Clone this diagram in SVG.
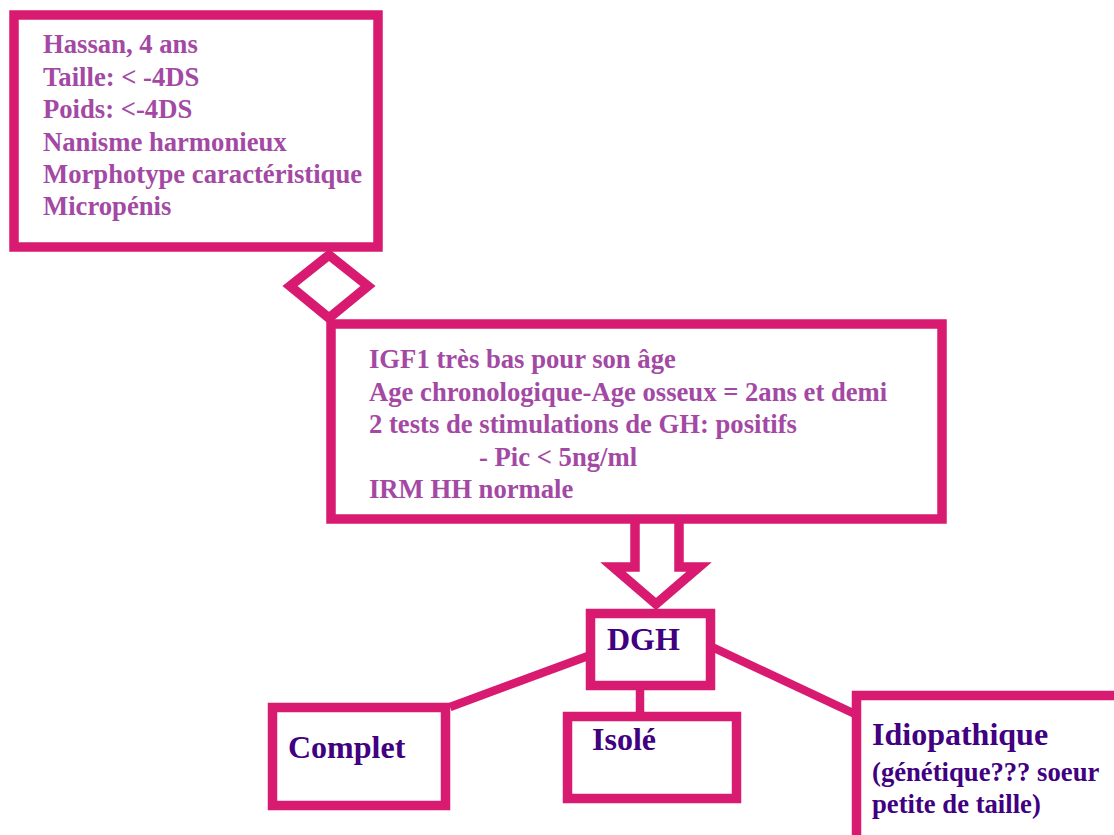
<svg xmlns="http://www.w3.org/2000/svg" width="1114" height="835" viewBox="0 0 1114 835">
<style>
.box{fill:#ffffff;stroke:#d81b70;stroke-width:9.5;stroke-linejoin:miter}
.con{fill:none;stroke:#d81b70;stroke-width:8.5}
.t1{font-family:"Liberation Serif","Times New Roman",serif;font-weight:bold;font-size:26.67px;fill:#a349a4}
.t2{font-family:"Liberation Serif","Times New Roman",serif;font-weight:bold;font-size:32px;fill:#400080}
.t3{font-family:"Liberation Serif","Times New Roman",serif;font-weight:bold;font-size:26.67px;fill:#400080}
</style>
<rect width="1114" height="835" fill="#ffffff"/>
<g id="connectors">
<polygon class="box" points="329,255 368,286 329,318 290,286"/>
<path class="box" d="M635,520 V567 H613 L656,604 L699,567 H679 V520"/>
<line class="con" x1="640" y1="688" x2="640" y2="714"/>
<line class="con" x1="450" y1="707" x2="588" y2="656"/>
<line class="con" x1="712" y1="647" x2="855" y2="714"/>
</g>
<g id="node-patient">
<rect class="box" x="14" y="15" width="364" height="232"/>
<text class="t1" x="43" y="53">Hassan, 4 ans</text>
<text class="t1" x="43" y="86">Taille: &lt; -4DS</text>
<text class="t1" x="43" y="118">Poids: &lt;-4DS</text>
<text class="t1" x="43" y="151">Nanisme harmonieux</text>
<text class="t1" x="43" y="183">Morphotype caractéristique</text>
<text class="t1" x="43" y="215">Micropénis</text>
</g>
<g id="node-bilan">
<rect class="box" x="331" y="324" width="611" height="195"/>
<text class="t1" x="369" y="368">IGF1 très bas pour son âge</text>
<text class="t1" x="369" y="400.5">Age chronologique-Age osseux = 2ans et demi</text>
<text class="t1" x="369" y="433">2 tests de stimulations de GH: positifs</text>
<text class="t1" x="479" y="465.5">- Pic &lt; 5ng/ml</text>
<text class="t1" x="369" y="498">IRM HH normale</text>
</g>
<g id="node-dgh">
<rect class="box" x="590.5" y="613.5" width="120" height="72"/>
<text class="t2" x="607" y="650">DGH</text>
</g>
<g id="node-complet">
<rect class="box" x="272.5" y="707.5" width="173" height="98"/>
<text class="t2" x="288" y="758">Complet</text>
</g>
<g id="node-isole">
<rect class="box" x="567.5" y="716.5" width="169" height="82"/>
<text class="t2" x="592" y="750">Isolé</text>
</g>
<g id="node-idiopathique">
<rect class="box" x="856.5" y="695.5" width="280" height="160"/>
<text class="t2" x="872" y="745">Idiopathique</text>
<text class="t3" x="872" y="781">(génétique??? soeur</text>
<text class="t3" x="872" y="813">petite de taille)</text>
</g>
</svg>
